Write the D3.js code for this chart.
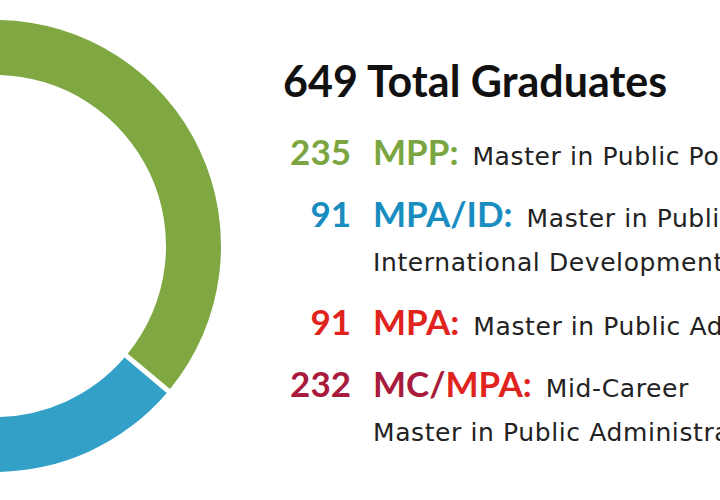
<!DOCTYPE html>
<html>
<head>
<meta charset="utf-8">
<script src="https://cdn.jsdelivr.net/npm/d3@7"></script>
<style>
  html, body { margin: 0; padding: 0; background: #fff; overflow: hidden; }
  svg { display: block; }
</style>
</head>
<body>
<div id="chart"></div>
<script>
// Data
const programs = ['MPP', 'MPA/ID', 'MPA', 'MC/MPA'];
const graduates = [235, 91, 91, 232];
const arcColors = ['#7fa843', '#33a0c8', '#e2261f', '#a81c3e'];
const textColors = ['#7aa540', '#1a8dc0', '#e0241d', '#a81b3c'];
const descFirst = ['Master in Public Policy', 'Master in Public Administration in', 'Master in Public Administration', 'Mid-Career'];
const descSecond = ['', 'International Development', '', 'Master in Public Administration'];
const title = '649 Total Graduates';

const width = 720;
const height = 500;

const svg = d3.select('#chart')
    .append('svg')
    .attr('width', width)
    .attr('height', height);

// Donut
const pie = d3.pie().sort(null).padAngle(0.018);
const arc = d3.arc().innerRadius(171).outerRadius(226);

svg.append('g')
    .attr('transform', 'translate(-5,246)')
    .selectAll('path')
    .data(pie(graduates))
    .join('path')
    .attr('d', arc)
    .attr('fill', (d, i) => arcColors[i]);

// Title
svg.append('text')
    .attr('x', 283)
    .attr('y', 97)
    .attr('font-family', 'Lato, sans-serif')
    .attr('font-weight', 700)
    .attr('font-size', 43)
    .attr('fill', '#111')
    .text(title);

// Legend rows
const rowY = [165, 227, 335, 397];
const lineGap = 44;
const numX = 351;
const labelX = 373;
const descFont = '"DejaVu Sans", sans-serif';

programs.forEach((p, i) => {
    const y = rowY[i];

    svg.append('text')
        .attr('x', numX)
        .attr('y', y)
        .attr('text-anchor', 'end')
        .attr('font-family', 'Lato, sans-serif')
        .attr('font-weight', 700)
        .attr('font-size', 35)
        .attr('fill', textColors[i])
        .text(graduates[i]);

    const t = svg.append('text')
        .attr('x', labelX)
        .attr('y', y)
        .attr('font-family', 'Lato, sans-serif')
        .attr('font-size', 35);

    if (p === 'MC/MPA') {
        t.append('tspan').attr('font-weight', 700).attr('fill', textColors[3]).text('MC/');
        t.append('tspan').attr('font-weight', 700).attr('fill', textColors[2]).text('MPA:');
    } else {
        t.append('tspan').attr('font-weight', 700).attr('fill', textColors[i]).text(p + ':');
    }
    t.append('tspan')
        .attr('dx', 14)
        .attr('font-family', descFont)
        .attr('font-size', 25)
        .attr('letter-spacing', 0.6)
        .attr('fill', '#222')
        .text(descFirst[i]);

    if (descSecond[i]) {
        svg.append('text')
            .attr('x', labelX)
            .attr('y', y + lineGap)
            .attr('font-family', descFont)
            .attr('font-size', 25)
            .attr('letter-spacing', 0.6)
            .attr('fill', '#222')
            .text(descSecond[i]);
    }
});
</script>
</body>
</html>
